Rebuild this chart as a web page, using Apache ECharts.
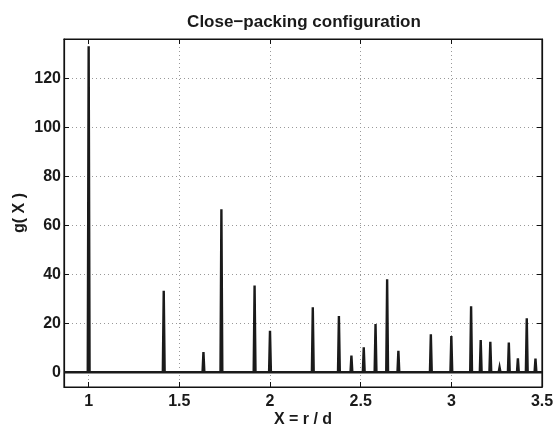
<!DOCTYPE html>
<html>
<head>
<meta charset="utf-8">
<script src="https://cdn.jsdelivr.net/npm/echarts@6/dist/echarts.min.js"></script>
<style>html,body{margin:0;padding:0;background:#fff}#c{width:556px;height:426px}</style>
</head>
<body>
<div id="c"></div>
<script>
// Peak positions (X = r/d) and heights g(X)
const peakX = [1.000, 1.414, 1.633, 1.732, 1.915, 2.000, 2.236, 2.380, 2.449, 2.517, 2.582, 2.646, 2.708, 2.887, 3.000, 3.109, 3.162, 3.215, 3.266, 3.317, 3.367, 3.416, 3.464];
const peakG = [133, 33.3, 8.3, 66.5, 35.4, 16.9, 26.5, 23.0, 6.8, 10.2, 19.7, 38.0, 8.8, 15.5, 14.8, 26.9, 13.2, 12.5, 2.0, 12.1, 5.7, 22.0, 5.6];
const xTicks = [1, 1.5, 2, 2.5, 3, 3.5];
const yTicks = [0, 20, 40, 60, 80, 100, 120];
const xRange = [0.864, 3.5];
const yRange = [-6, 136];
const halfWidth = 0.005;

const lineData = [[xRange[0], 0]];
for (let i = 0; i < peakX.length; i++) {
  lineData.push([peakX[i] - halfWidth, 0], [peakX[i], peakG[i]], [peakX[i] + halfWidth, 0]);
}
lineData.push([xRange[1], 0]);

const FONT = 'Liberation Sans, Arial, Helvetica, sans-serif';
const lbl = { fontFamily: FONT, fontWeight: 'bold', fontSize: 16, color: '#1a1a1a' };

const chart = echarts.init(document.getElementById('c'), null, { renderer: 'canvas' });
chart.setOption({
  animation: false,
  backgroundColor: '#fff',
  title: {
    text: 'Close\u2212packing configuration',
    left: 299, textAlign: 'center', top: 9,
    textStyle: { fontFamily: FONT, fontWeight: 'bold', fontSize: 17, color: '#1a1a1a' }
  },
  grid: { left: 64, right: 14, top: 39, bottom: 39, outerBoundsMode: 'none', containLabel: false, show: true, borderColor: '#111', borderWidth: 1.2, backgroundColor: 'transparent' },
  xAxis: [{
    type: 'value', min: xRange[0], max: xRange[1],
    name: 'X = r / d', nameLocation: 'middle', nameGap: 25, nameMoveOverlap: false,
    nameTextStyle: lbl,
    axisLine: { show: true, onZero: false, lineStyle: { color: '#111', width: 1.2 } },
    axisTick: { show: true, inside: true, length: 5, customValues: xTicks, lineStyle: { color: '#111' } },
    axisLabel: { customValues: xTicks, margin: 7, ...lbl, formatter: v => String(v) },
    splitLine: { show: true, lineStyle: { color: '#999', type: [1, 3], width: 1 } }
  }, {
    type: 'value', min: xRange[0], max: xRange[1], position: 'top',
    axisLine: { show: true, onZero: false, lineStyle: { color: '#111', width: 1.2 } },
    axisTick: { show: true, inside: true, length: 5, customValues: xTicks, lineStyle: { color: '#111' } },
    axisLabel: { show: false },
    splitLine: { show: false }
  }],
  yAxis: [{
    type: 'value', min: yRange[0], max: yRange[1],
    name: 'g( X )', nameLocation: 'middle', nameGap: 36, nameRotate: 90, nameMoveOverlap: false,
    nameTextStyle: lbl,
    axisLine: { show: true, onZero: false, lineStyle: { color: '#111', width: 1.2 } },
    axisTick: { show: true, inside: true, length: 5, customValues: yTicks, lineStyle: { color: '#111' } },
    axisLabel: { customValues: yTicks, margin: 3, ...lbl },
    splitLine: { show: true, lineStyle: { color: '#999', type: [1, 3], width: 1 } }
  }, {
    type: 'value', min: yRange[0], max: yRange[1], position: 'right',
    axisLine: { show: true, onZero: false, lineStyle: { color: '#111', width: 1.2 } },
    axisTick: { show: true, inside: true, length: 5, customValues: yTicks, lineStyle: { color: '#111' } },
    axisLabel: { show: false },
    splitLine: { show: false }
  }],
  series: [{
    type: 'line', xAxisIndex: 0, yAxisIndex: 0,
    data: lineData, showSymbol: false, symbol: 'none',
    lineStyle: { color: '#1a1a1a', width: 2.4, join: 'miter' },
    clip: true
  }]
});
</script>
</body>
</html>
